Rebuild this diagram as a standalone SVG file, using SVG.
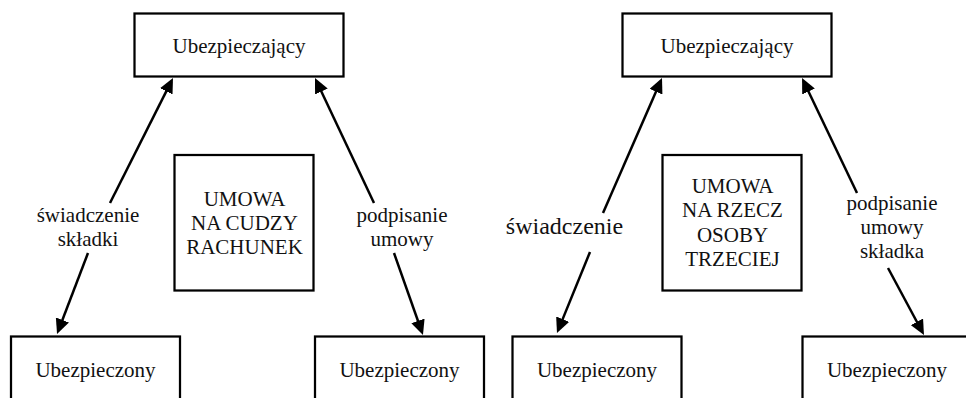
<svg xmlns="http://www.w3.org/2000/svg" width="966" height="398" viewBox="0 0 966 398">
<style>
.box{fill:#fff;stroke:#000;stroke-width:2.25}
.t{font-family:'Liberation Serif','Times New Roman',Tinos,'Nimbus Roman','Nimbus Roman No9 L',FreeSerif,'Noto Serif','DejaVu Serif',serif;font-size:21px;fill:#111;text-anchor:middle}
.big{font-size:24px}
.c{stroke:#000;stroke-width:2.5;fill:none;marker-end:url(#ah)}
</style>
<defs>
<marker id="ah" markerUnits="userSpaceOnUse" viewBox="0 0 15 14" refX="7" refY="7" markerWidth="15" markerHeight="14" orient="auto">
<path d="M0,0 L15,7 L0,14 z" fill="#000"/>
</marker>
</defs>
<rect width="966" height="398" fill="#fff"/>
<g id="connectors">
<line class="c" x1="110" y1="203" x2="169.4" y2="85.1"/>
<line class="c" x1="88" y1="253" x2="59.9" y2="326.5"/>
<line class="c" x1="374" y1="203" x2="318.4" y2="85.2"/>
<line class="c" x1="394" y1="253" x2="420.3" y2="327.5"/>
<line class="c" x1="603" y1="213" x2="658.8" y2="85.3"/>
<line class="c" x1="590" y1="252" x2="560" y2="325.6"/>
<line class="c" x1="857" y1="193" x2="805.5" y2="85.2"/>
<line class="c" x1="888" y1="268" x2="920.2" y2="328"/>
</g>
<g id="labels">
<text class="t" x="88" y="222">świadczenie</text>
<text class="t" x="88" y="246">składki</text>
<text class="t" x="402" y="222">podpisanie</text>
<text class="t" x="402" y="246">umowy</text>
<text class="t big" x="564.5" y="234">świadczenie</text>
<text class="t" x="892" y="210">podpisanie</text>
<text class="t" x="892" y="234">umowy</text>
<text class="t" x="892" y="258">składka</text>
</g>
<g id="ubezpieczajacy-1">
<rect class="box" x="134.5" y="13.5" width="209" height="63"/>
<text class="t" x="239" y="53">Ubezpieczający</text>
</g>
<g id="umowa-1">
<rect class="box" x="174.5" y="155" width="139" height="135.5"/>
<text class="t" x="244.5" y="206">UMOWA</text>
<text class="t" x="244.5" y="230">NA CUDZY</text>
<text class="t" x="244.5" y="254">RACHUNEK</text>
</g>
<g id="ubezpieczony-1a">
<rect class="box" x="11" y="336.5" width="169" height="100"/>
<text class="t" x="95.5" y="377">Ubezpieczony</text>
</g>
<g id="ubezpieczony-1b">
<rect class="box" x="315" y="336.5" width="169" height="100"/>
<text class="t" x="399.5" y="377">Ubezpieczony</text>
</g>
<g id="ubezpieczajacy-2">
<rect class="box" x="622.5" y="13.5" width="209" height="63"/>
<text class="t" x="727" y="53">Ubezpieczający</text>
</g>
<g id="umowa-2">
<rect class="box" x="662.5" y="155" width="139" height="135.5"/>
<text class="t" x="732.5" y="193">UMOWA</text>
<text class="t" x="732.5" y="217">NA RZECZ</text>
<text class="t" x="732.5" y="241.5">OSOBY</text>
<text class="t" x="732.5" y="266">TRZECIEJ</text>
</g>
<g id="ubezpieczony-2a">
<rect class="box" x="512.5" y="336.5" width="169" height="100"/>
<text class="t" x="597" y="377">Ubezpieczony</text>
</g>
<g id="ubezpieczony-2b">
<rect class="box" x="802.5" y="336.5" width="169" height="100"/>
<text class="t" x="887" y="377">Ubezpieczony</text>
</g>
</svg>
